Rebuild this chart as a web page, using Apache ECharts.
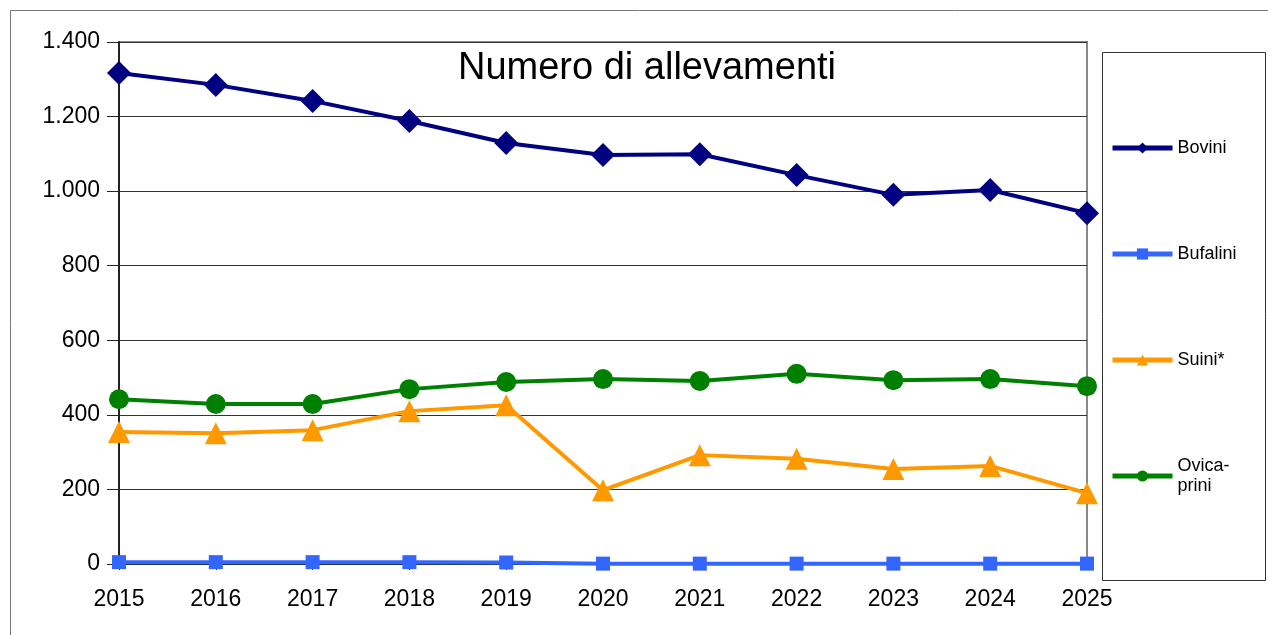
<!DOCTYPE html>
<html>
<head>
<meta charset="utf-8">
<script src="https://cdn.jsdelivr.net/npm/echarts@6/dist/echarts.min.js"></script>
<style>
  html, body { margin: 0; padding: 0; background: #fff; }
  #chart { width: 1268px; height: 635px; }
</style>
</head>
<body>
<div id="chart"></div>
<script>
const years = ['2015', '2016', '2017', '2018', '2019', '2020', '2021', '2022', '2023', '2024', '2025']
const bovini = [1317, 1285, 1242, 1188, 1129, 1097, 1099, 1043, 990, 1003, 941]
const bufalini = [5, 5, 5, 5, 4, 1, 1, 1, 1, 1, 1]
const suini = [354, 351, 359, 410, 426, 198, 292, 282, 255, 263, 190]
const ovicaprini = [442, 429, 429, 469, 488, 496, 491, 510, 493, 496, 477]

const chart = echarts.init(document.getElementById('chart'))
const font = '"Liberation Sans", Arial, sans-serif'

function line(name, data, color, symbol, size) {
  return {
    name: name,
    type: 'line',
    data: data,
    symbol: symbol,
    symbolSize: size,
    lineStyle: { color: color, width: 4 },
    itemStyle: { color: color },
    z: 3
  }
}

const option = {
  backgroundColor: '#fff',
  animation: false,
  textStyle: { fontFamily: font },
  title: {
    text: 'Numero di allevamenti',
    left: 642,
    textAlign: 'center',
    top: 45,
    textStyle: { fontSize: 38, fontWeight: 'normal', color: '#000', fontFamily: font }
  },
  grid: {
    left: 119, right: 181, top: 42, bottom: 71,
    show: true, borderColor: '#888', borderWidth: 2
  },
  legend: {
    orient: 'vertical',
    left: 1105,
    top: 133,
    itemGap: 86,
    itemWidth: 60,
    itemHeight: 14,
    lineStyle: { width: 5 },
    formatter: function (n) { return n === 'Ovicaprini' ? 'Ovica-\nprini' : n },
    textStyle: { fontSize: 18, color: '#000', fontFamily: font, lineHeight: 20 },
    data: ['Bovini', 'Bufalini', 'Suini*', 'Ovicaprini']
  },
  graphic: [
    { type: 'rect', shape: { x: 10.5, y: 10.5, width: 1300, height: 700 }, style: { fill: 'none', stroke: '#777', lineWidth: 1 }, z: -10 },
    { type: 'rect', shape: { x: 1102.5, y: 52.5, width: 163, height: 528 }, style: { fill: '#fff', stroke: '#333', lineWidth: 1 }, z: -5 }
  ],
  xAxis: {
    type: 'category',
    data: years,
    boundaryGap: false,
    axisLine: { lineStyle: { color: '#222', width: 2 } },
    axisTick: { show: true, alignWithLabel: true, length: 6, lineStyle: { color: '#222' } },
    axisLabel: { color: '#000', fontSize: 23, margin: 24, fontFamily: font }
  },
  yAxis: {
    type: 'value',
    min: 0,
    max: 1400,
    interval: 200,
    axisLine: { show: true, lineStyle: { color: '#222', width: 2 } },
    axisTick: { show: true, length: 12, lineStyle: { color: '#222' } },
    splitLine: { lineStyle: { color: '#333', width: 1 } },
    axisLabel: {
      color: '#000', fontSize: 23, margin: 19, fontFamily: font,
      formatter: function (v) { return String(v).replace(/\B(?=(\d{3})+(?!\d))/g, '.') }
    }
  },
  series: [
    line('Bovini', bovini, '#000080', 'diamond', 24),
    line('Bufalini', bufalini, '#3366ff', 'rect', 14),
    line('Suini*', suini, '#ff9900', 'triangle', 22),
    line('Ovicaprini', ovicaprini, '#008000', 'circle', 20)
  ]
}
chart.setOption(option)
</script>
</body>
</html>
